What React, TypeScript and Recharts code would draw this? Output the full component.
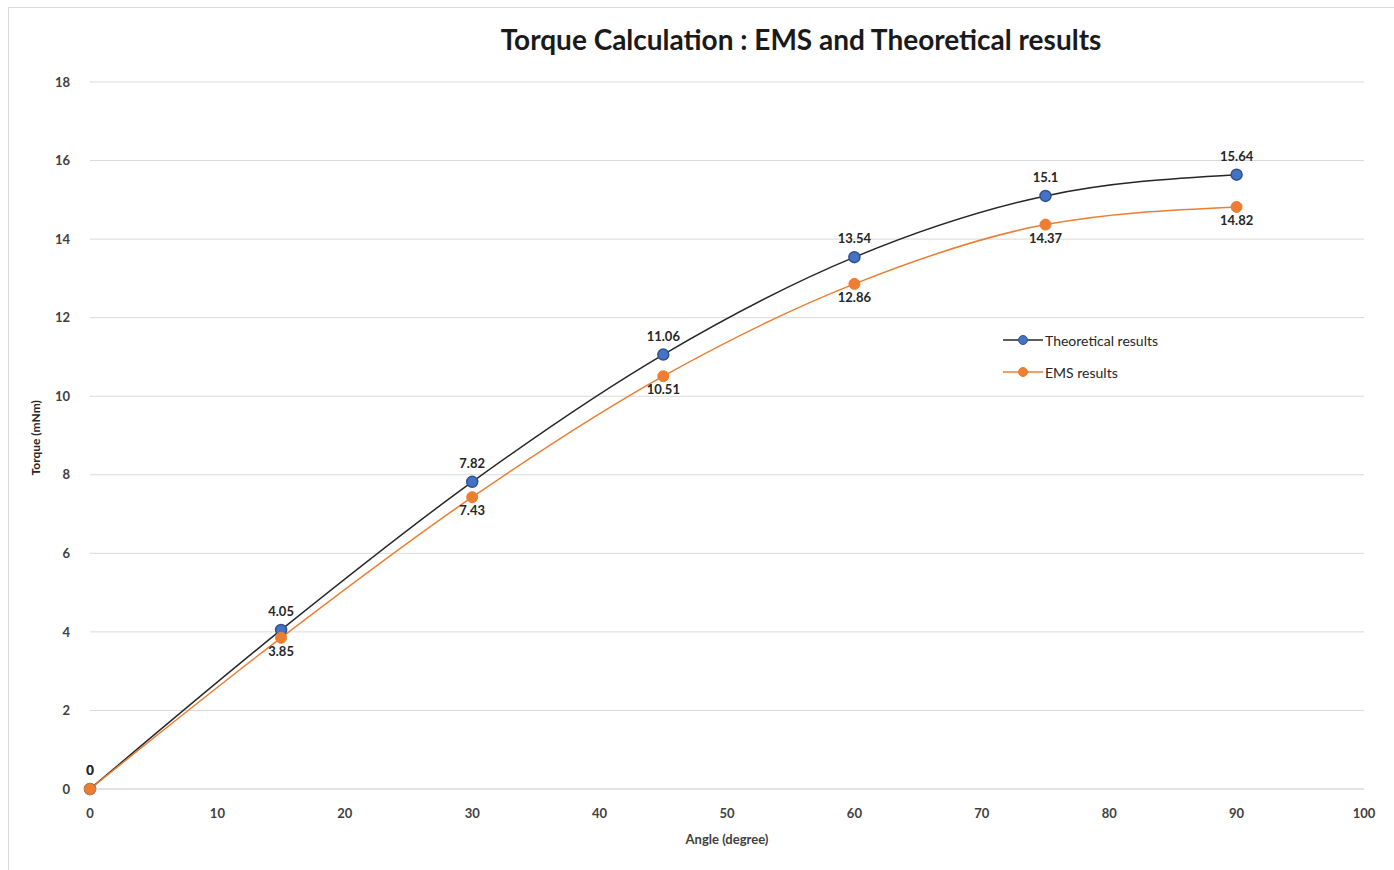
import { LineChart, Line, XAxis, YAxis, CartesianGrid, LabelList } from 'recharts';

const angles = [0, 15, 30, 45, 60, 75, 90];
const theoretical = [0, 4.05, 7.82, 11.06, 13.54, 15.1, 15.64];
const ems = [0, 3.85, 7.43, 10.51, 12.86, 14.37, 14.82];
const xTicks = [0, 10, 20, 30, 40, 50, 60, 70, 80, 90, 100];
const yTicks = [0, 2, 4, 6, 8, 10, 12, 14, 16, 18];

const data = angles.map((a, i) => ({ angle: a, theoretical: theoretical[i], ems: ems[i] }));

const FONT = 'Lato, "Open Sans", sans-serif';
const tickStyle = { fill: '#404040', fontSize: 13, fontFamily: FONT, fontWeight: 700 };

const legendItems = [
  { label: 'Theoretical results', line: '#262626', fill: '#4472C4', stroke: '#2F528F' },
  { label: 'EMS results', line: '#ED7D31', fill: '#ED7D31', stroke: '#ED7D31' },
];

function LegendBox() {
  return (
    <div style={{ position: 'absolute', left: 1003, top: 324, fontFamily: FONT, fontSize: 14, color: '#262626' }}>
      {legendItems.map((it) => (
        <div key={it.label} style={{ display: 'flex', alignItems: 'center', height: 32 }}>
          <svg width={40} height={12}>
            <line x1={0} y1={6} x2={40} y2={6} stroke={it.line} strokeWidth={1.5} />
            <circle cx={20} cy={6} r={4.5} fill={it.fill} stroke={it.stroke} strokeWidth={1} />
          </svg>
          <span style={{ marginLeft: 2 }}>{it.label}</span>
        </div>
      ))}
    </div>
  );
}

// EMS labels go under the point, except the first one which sits on top like Excel drew it
function EmsLabel(props: any) {
  const { x, y, value, index } = props;
  const dy = index === 0 ? -14 : 18;
  return (
    <text x={x} y={y + dy} textAnchor="middle" fill="#262626" fontSize={13} fontFamily={FONT} fontWeight={700}>
      {value}
    </text>
  );
}

export default function App() {
  return (
    <div style={{ position: 'absolute', left: 0, top: 0, width: 1394, height: 870, background: '#fff' }}>
      <div style={{ position: 'absolute', left: 8, top: 7, width: 1400, height: 880, border: '1px solid #d9d9d9' }} />
      <div
        style={{
          position: 'absolute', left: 0, top: 22, width: 1602, textAlign: 'center',
          fontFamily: FONT, fontWeight: 700, fontSize: 28, color: '#1a1a1a',
        }}
      >
        Torque Calculation : EMS and Theoretical results
      </div>
      <LineChart width={1394} height={870} data={data} margin={{ top: 82, right: 30, left: 0, bottom: 0 }}>
        <CartesianGrid horizontal vertical={false} stroke="#d9d9d9" />
        <XAxis
          dataKey="angle"
          type="number"
          domain={[0, 100]}
          ticks={xTicks}
          height={81}
          tick={tickStyle}
          tickLine={false}
          axisLine={{ stroke: '#d9d9d9' }}
          tickMargin={14}
          label={{ value: 'Angle  (degree)', position: 'insideBottom', offset: 26, fill: '#404040', fontSize: 13, fontFamily: FONT, fontWeight: 700 }}
        />
        <YAxis
          type="number"
          domain={[0, 18]}
          ticks={yTicks}
          width={90}
          tick={tickStyle}
          tickLine={false}
          axisLine={false}
          tickMargin={14}
          label={{ value: 'Torque (mNm)', angle: -90, position: 'insideLeft', offset: 36, dy: 40, fill: '#262626', fontSize: 12, fontFamily: FONT, fontWeight: 700 }}
        />
        <Line
          type="monotone"
          dataKey="theoretical"
          stroke="#262626"
          strokeWidth={1.5}
          dot={{ r: 5.5, fill: '#4472C4', stroke: '#2F528F', strokeWidth: 1.5 }}
          isAnimationActive={false}
        >
          <LabelList dataKey="theoretical" position="top" offset={14} style={{ fill: '#262626', fontSize: 13, fontFamily: FONT, fontWeight: 700 }} />
        </Line>
        <Line
          type="monotone"
          dataKey="ems"
          stroke="#ED7D31"
          strokeWidth={1.5}
          dot={{ r: 5.5, fill: '#ED7D31', stroke: '#ED7D31', strokeWidth: 1 }}
          isAnimationActive={false}
        >
          <LabelList dataKey="ems" content={<EmsLabel />} />
        </Line>
      </LineChart>
      <LegendBox />
    </div>
  );
}
